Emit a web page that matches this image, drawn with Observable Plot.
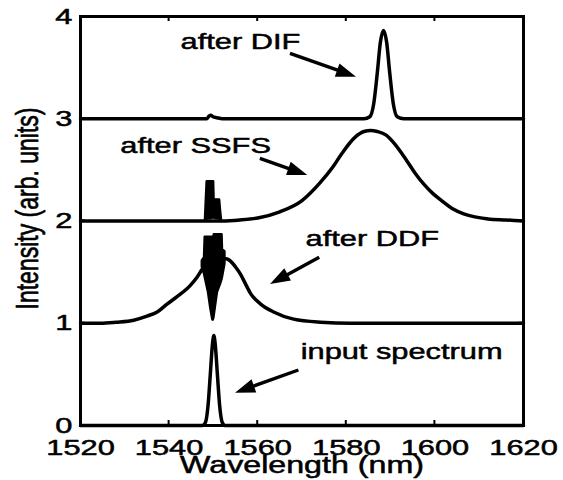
<!DOCTYPE html>
<html><head><meta charset="utf-8">
<script src="https://cdn.jsdelivr.net/npm/d3@7"></script>
<script src="https://cdn.jsdelivr.net/npm/@observablehq/plot@0.6"></script>
<style>html,body{margin:0;padding:0;background:#fff;} svg{display:block}</style>
</head><body><div id="chart"></div>
<script>
const xTicks = [1520, 1540, 1560, 1580, 1600, 1620];
const yTicks = [0, 1, 2, 3, 4];
const xLabel = "Wavelength (nm)";
const yLabel = "Intensity (arb. units)";

// smooth parts: [wavelength nm, intensity]
const inputSpectrum = [[1520,0],[1540,0],[1547.5,0],[1548.2,0.03],[1548.8,0.2],[1549.3,0.5],[1549.8,0.8],[1550.1,0.88],[1550.4,0.8],[1550.9,0.5],[1551.4,0.2],[1552,0.03],[1552.6,0],[1580,0],[1620,0]];

const afterDDF = [[1520,1.0],[1524.5,1.0],[1528,1.01],[1532,1.03],[1535,1.07],[1537.3,1.11],[1539.6,1.19],[1541.8,1.26],[1544.8,1.37],[1546.3,1.45],[1547.5,1.53],[1549,1.59],[1551,1.63],[1552.8,1.63],[1553.5,1.62],[1555,1.55],[1556.1,1.48],[1557.3,1.38],[1558.4,1.29],[1560.6,1.19],[1563.6,1.11],[1568.1,1.04],[1574.2,1.01],[1581,1.0],[1620,1.0]];

const afterSSFS = [[1520,2],[1535,2],[1545,2],[1548.0,2.0],[1552,2.0],[1556,2.01],[1560,2.03],[1565,2.09],[1570,2.20],[1574,2.37],[1577,2.53],[1579,2.66],[1582,2.82],[1584,2.875],[1585.5,2.885],[1587,2.875],[1589,2.84],[1591,2.75],[1593.5,2.6],[1595.5,2.47],[1597.5,2.36],[1599.5,2.27],[1601.5,2.2],[1604,2.12],[1606.5,2.07],[1609,2.04],[1612,2.02],[1616,2.01],[1620,2.0]];

const afterDIF = [[1520,3],[1546,3],[1548.5,3.0],[1549.0,3.025],[1549.4,3.035],[1549.9,3.02],[1550.8,3.01],[1552,3.0],[1584,3.0],[1585.3,3.02],[1586.2,3.15],[1587.0,3.45],[1587.7,3.75],[1588.4,3.863],[1589.1,3.75],[1589.8,3.45],[1590.6,3.15],[1591.5,3.02],[1593,3.0],[1620,3.0]];

// fast-oscillating (solid black) parts: [wavelength nm, lower envelope, upper envelope]
const ddfSpike = [[1547.5,1.55,1.61],[1548.0,1.48,1.64],[1548.15,1.45,1.84],[1548.9,1.30,1.84],[1549.4,1.15,1.84],[1549.85,1.04,1.84],[1549.95,1.03,1.78],[1550.1,1.05,1.78],[1550.2,1.08,1.865],[1550.9,1.30,1.865],[1551.6,1.38,1.865],[1551.95,1.43,1.865],[1552.05,1.45,1.72],[1552.6,1.58,1.70]];
const ssfsSpike = [[1548.2,2.0,2.0],[1548.4,2.01,2.2],[1548.6,2.02,2.385],[1550.05,2.03,2.385],[1550.15,2.03,2.205],[1551.4,2.02,2.205],[1551.65,2.01,2.08],[1551.85,2.0,2.0]];

const labels = ["input spectrum", "after DDF", "after SSFS", "after DIF"];
const labelX = [1569.7, 1570.8, 1529.0, 1542.6];
const labelY = [0.724, 1.829, 2.738, 3.752];
const arrowFrom = [[1569.3,0.538],[1574.0,1.640],[1560.6,2.608],[1567.4,3.635]];
const arrowTo = [[1555.0,0.316],[1562.9,1.379],[1571.3,2.445],[1582.3,3.406]];

const series = [inputSpectrum, afterDDF, afterSSFS, afterDIF];
const spikes = [ddfSpike, ssfsSpike];
const labelRows = labels.map((t, i) => ({t, x: labelX[i], y: labelY[i]}));
const arrowRows = arrowFrom.map((f, i) => ({x1: f[0], y1: f[1], x2: arrowTo[i][0], y2: arrowTo[i][1]}));

const STRETCH = 1.4;

function decorations(index, scales) {
  const g = d3.create("svg:g");
  const x = scales.x, y = scales.y;
  const x0 = x(xTicks[0]), x1 = x(xTicks[xTicks.length-1]);
  const y0 = y(yTicks[0]), y1 = y(yTicks[yTicks.length-1]);
  const T = 5;
  for (const t of xTicks.slice(1, -1)) {
    g.append("line").attr("x1", x(t)).attr("x2", x(t)).attr("y1", y0).attr("y2", y0 - T).attr("stroke", "black").attr("stroke-width", 2);
    g.append("line").attr("x1", x(t)).attr("x2", x(t)).attr("y1", y1).attr("y2", y1 + T).attr("stroke", "black").attr("stroke-width", 2);
  }
  for (const t of yTicks.slice(1, -1)) {
    g.append("line").attr("x1", x0).attr("x2", x0 + T).attr("y1", y(t)).attr("y2", y(t)).attr("stroke", "black").attr("stroke-width", 2);
    g.append("line").attr("x1", x1).attr("x2", x1 - T).attr("y1", y(t)).attr("y2", y(t)).attr("stroke", "black").attr("stroke-width", 2);
  }
  for (const a of arrowRows) {
    const ax = x(a.x1), ay = y(a.y1), bx = x(a.x2), by = y(a.y2);
    const ang = Math.atan2(by - ay, bx - ax);
    const L = 20, W = 7;
    const cx = bx - L * Math.cos(ang), cy = by - L * Math.sin(ang);
    g.append("line").attr("x1", ax).attr("y1", ay).attr("x2", cx + 2*Math.cos(ang)).attr("y2", cy + 2*Math.sin(ang))
      .attr("stroke", "black").attr("stroke-width", 3.4).attr("stroke-linecap", "butt");
    const px = -Math.sin(ang) * W, py = Math.cos(ang) * W;
    g.append("path").attr("d", `M${bx},${by}L${cx + px},${cy + py}L${cx - px},${cy - py}Z`).attr("fill", "black");
  }
  return g.node();
}

const textStyle = {fill: "black", stroke: "black", strokeWidth: 0.5};

const svg = Plot.plot({
  width: 563, height: 480,
  marginLeft: 80, marginRight: 40, marginTop: 16, marginBottom: 55,
  x: {domain: [1520, 1620], axis: null},
  y: {domain: [0, 4], axis: null},
  style: {fontFamily: "'Liberation Sans', Arial, sans-serif", background: "white", color: "black"},
  marks: [
    ...series.map(s => Plot.line(s, {x: d => d[0], y: d => d[1], stroke: "black", strokeWidth: 3.5, curve: "monotone-x"})),
    ...spikes.map(s => Plot.areaY(s, {x: d => d[0], y1: d => d[1], y2: d => d[2], fill: "black", stroke: "black", strokeWidth: 2.5, strokeLinejoin: "round", curve: "linear"})),
    Plot.frame({stroke: "black", strokeWidth: 3}),
    decorations,
    Plot.text(xTicks, {x: d => d, frameAnchor: "bottom", dy: 22, lineAnchor: "middle", text: d => String(d), fontSize: 22, ...textStyle}),
    Plot.text(yTicks, {y: d => d, frameAnchor: "left", dx: -8, textAnchor: "end", lineAnchor: "middle", text: d => String(d), fontSize: 22, ...textStyle}),
    Plot.text([xLabel], {frameAnchor: "bottom", dy: 40, textAnchor: "middle", lineAnchor: "middle", text: d => d, fontSize: 23, ...textStyle}),
    Plot.text([yLabel], {frameAnchor: "left", dx: -53, dy: -12.5, rotate: -90, textAnchor: "middle", lineAnchor: "middle", text: d => d, fontSize: 23, ...textStyle}),
    Plot.text(labelRows, {x: "x", y: "y", text: "t", textAnchor: "start", lineAnchor: "middle", fontSize: 22, ...textStyle})
  ]
});

document.getElementById("chart").appendChild(svg);

d3.select(svg).selectAll("text").each(function() {
  const t = this.getAttribute("transform");
  if (t && /^\s*translate\([^)]*\)/.test(t)) {
    this.setAttribute("transform", t.replace(/^\s*(translate\([^)]*\))/, `$1 scale(${STRETCH},1)`));
  } else {
    const x = +this.getAttribute("x") || 0, y = +this.getAttribute("y") || 0;
    this.removeAttribute("x"); this.removeAttribute("y");
    this.setAttribute("transform", `translate(${x},${y}) scale(${STRETCH},1)` + (t ? " " + t : ""));
  }
});
</script>
</body></html>
